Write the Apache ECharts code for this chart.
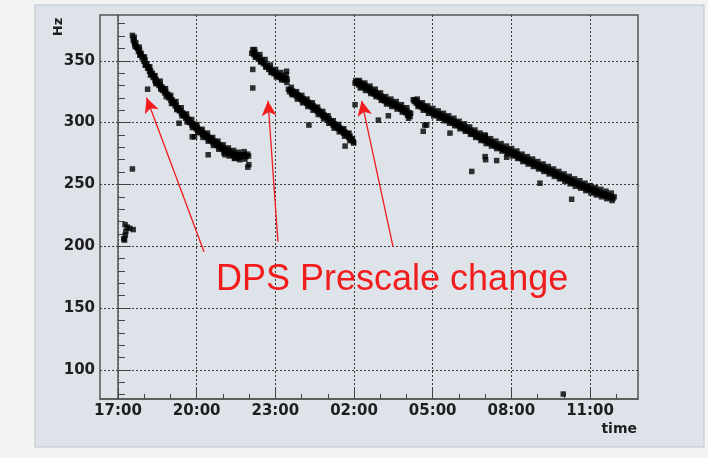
<!DOCTYPE html>
<html>
<head>
<meta charset="utf-8">
<script src="https://cdn.jsdelivr.net/npm/echarts@6/dist/echarts.min.js"></script>
<style>html,body{margin:0;padding:0;background:#f3f3f3;}#c{width:708px;height:458px;}</style>
</head>
<body>
<div id="c"></div>
<script>
// hours after 17:00
const xTickHours = [0, 3, 6, 9, 12, 15, 18];
const xTickLabels = ['17:00', '20:00', '23:00', '02:00', '05:00', '08:00', '11:00'];
const xMinorHours = [0,1,2,3,4,5,6,7,8,9,10,11,12,13,14,15,16,17,18,19];
const yTicks = [100, 150, 200, 250, 300, 350];
const yMinorTicks = [80,90,100,110,120,130,140,150,160,170,180,190,200,210,220,230,240,250,260,270,280,290,300,310,320,330,340,350,360,370,380];
const xRange = [-0.686, 19.83];
const yRange = [76.5, 387];

const fill1 = [[0.55,370.5],[0.58,367],[0.61,365.5],[0.64,363],[0.68,364.5],[0.71,361],[0.75,360],[0.78,357.5],[0.82,358.5],[0.85,355],[0.89,356],[0.92,352.5],[0.96,353],[0.99,349.5],[1.03,350.5],[1.06,346.5],[1.1,347.5],[1.13,344],[1.17,345],[1.2,341.5],[1.24,342],[1.27,339],[1.31,340],[1.34,336.5],[1.38,337.5],[1.41,334],[1.45,335],[1.48,332],[1.52,333],[1.56,330],[1.6,331],[1.63,328],[1.67,329],[1.7,326],[1.74,327],[1.78,324],[1.82,325],[1.86,322.5],[1.9,323],[1.94,320],[1.98,321],[2.02,318],[2.06,318.5],[2.1,315.5],[2.14,316.5],[2.18,313.5],[2.22,314],[2.26,311.5],[2.3,312],[2.34,309.5],[2.38,310],[2.42,307.5],[2.46,308],[2.5,305.5],[2.54,306.5],[2.58,303.5],[2.62,304.5],[2.66,302],[2.7,302.5],[2.74,300],[2.78,300.5],[2.82,298],[2.86,299],[2.9,296.5],[2.94,297.5],[2.98,295],[3.02,296],[3.06,293.5],[3.1,294.5],[3.14,292],[3.18,293],[3.22,290.5],[3.26,291.5],[3.3,289.5],[3.34,290],[3.38,288],[3.42,289],[3.46,286.5],[3.5,287.5],[3.54,285.5],[3.58,286.5],[3.62,284],[3.66,285],[3.7,283],[3.74,284],[3.78,281.5],[3.82,282.5],[3.86,280.5],[3.9,281.5],[3.94,279],[3.98,280],[4.02,278],[4.06,279],[4.1,277],[4.14,278],[4.18,276],[4.22,277],[4.26,275],[4.3,276],[4.34,274],[4.38,275.5],[4.42,273.5],[4.46,274.5],[4.5,272.5],[4.54,274],[4.58,271.5],[4.62,273.5],[4.66,272],[4.7,274],[4.76,273],[4.82,274],[4.88,272.5],[4.94,274.5],[4.98,273],
  [1.13,327],[2.33,299.5],[2.83,288.5],[2.92,288.5],[3.44,274],[4.08,274],[4.46,271.5],[0.55,262.5],[4.95,264],[4.99,266],
  [0.27,217.5],[0.35,215.5],[0.45,214.5],[0.58,213.5],[0.3,212],[0.28,209],[0.22,206],[0.25,205]];
const edge1 = [[0.62,369],[0.66,361.5],[0.81,361],[0.84,354.5],[1.01,353],[1.04,346.5],[1.21,345],[1.24,338.5],[1.41,338],[1.44,331.5],[1.61,333.5],[1.64,327],[1.81,327.5],[1.84,321],[2.01,322],[2.04,315.5],[2.21,317],[2.24,310.5],[2.41,312],[2.44,305.5],[2.61,307],[2.64,300.5],[2.81,302.5],[2.84,296],[3.01,298.5],[3.04,292],[3.21,294.5],[3.24,288],[3.41,291.5],[3.44,285],[3.61,288],[3.64,281.5],[3.81,285],[3.84,278.5],[4.01,282],[4.04,275.5],[4.21,279.5],[4.24,273],[4.41,277.5],[4.44,271],[4.61,276],[4.64,270],[4.81,276.5],[4.84,270.5]];

const fill2 = [[5.1,356],[5.14,359],[5.18,355],[5.22,357],[5.26,353],[5.3,354.5],[5.35,351.5],[5.4,352.5],[5.45,349.5],[5.5,350.5],[5.55,347.5],[5.6,348],[5.65,345],[5.7,346],[5.75,343],[5.8,344],[5.85,341],[5.9,342],[5.95,339.5],[6.0,340.5],[6.05,338],[6.1,339],[6.15,336.5],[6.2,338],[6.25,335.5],[6.3,337],[6.35,334.5],[6.4,336],[6.45,335],
  [6.5,327],[6.54,325],[6.58,326.5],[6.62,324],[6.66,325.5],[6.7,323],[6.75,324],[6.8,321.5],[6.85,322.5],[6.9,320],[6.95,321],[7.0,318.5],[7.05,319.5],[7.1,317],[7.15,318],[7.2,315.5],[7.25,316.5],[7.3,314],[7.35,315],[7.4,312.5],[7.45,313.5],[7.5,311],[7.55,312],[7.6,309],[7.65,310],[7.7,307.5],[7.75,308.5],[7.8,305.5],[7.85,306.5],[7.9,304],[7.95,305],[8.0,302],[8.05,303],[8.1,300],[8.15,301],[8.2,298],[8.25,299],[8.3,296.5],[8.35,297.5],[8.4,295],[8.45,296],[8.5,293.5],[8.55,294.5],[8.6,291.5],[8.65,292.5],[8.7,290],[8.75,291],[8.8,288],[8.85,289],[8.9,286],[8.94,287],[8.97,284.5],[8.99,283.5],
  [5.14,343],[5.14,328],[6.43,341.5],[7.28,298],[8.66,281]];
const edge2 = [[5.21,359],[5.24,353],[5.41,355],[5.44,349],[5.61,351],[5.64,345],[5.81,346.5],[5.84,340.5],[6.01,343],[6.04,337],[6.21,340.5],[6.24,334.5],[6.41,338.5],[6.44,332.5],[6.61,328.5],[6.64,322.5],[6.81,325],[6.84,319],[7.01,322],[7.04,316],[7.21,319],[7.24,313],[7.41,316],[7.44,310],[7.61,312.5],[7.64,306.5],[7.81,309],[7.84,303],[8.01,305.5],[8.04,299.5],[8.21,301.5],[8.24,295.5],[8.41,298.5],[8.44,292.5],[8.61,295],[8.64,289],[8.81,291.5],[8.84,285.5]];

const fill3 = [[9.04,332],[9.07,334],[9.1,331.5],[9.14,333],[9.18,330.5],[9.22,332],[9.27,329.5],[9.32,331],[9.37,328.5],[9.42,330],[9.47,327.5],[9.52,328.5],[9.57,326],[9.62,327],[9.67,324.5],[9.72,325.5],[9.77,323],[9.82,324.5],[9.87,322],[9.92,323],[9.97,320.5],[10.02,321.5],[10.07,319],[10.12,320],[10.17,317.5],[10.22,318.5],[10.27,316.5],[10.32,317.5],[10.37,315.5],[10.42,316.5],[10.47,314.5],[10.52,315.5],[10.57,313.5],[10.62,314.5],[10.67,312.5],[10.72,313],[10.77,311],[10.82,312],[10.87,309.5],[10.92,310.5],[10.97,308],[11.02,309.5],[11.07,306.5],[11.1,308],[11.14,305],[11.16,307.5],
  [9.04,314.5],[9.93,302],[10.31,305.5],[11.08,303.5],[11.64,293],[11.7,298]];
const edge3 = [[9.21,334],[9.24,328],[9.41,332],[9.44,326],[9.61,329.5],[9.64,323.5],[9.81,327],[9.84,321],[10.01,324],[10.04,318],[10.21,321],[10.24,315],[10.41,319],[10.44,313],[10.61,317],[10.64,311],[10.81,314.5],[10.84,308.5],[11.01,312],[11.04,306]];

const fill4 = [[11.26,318.5],[11.3,317],[11.34,318],[11.38,315.5],[11.42,316.5],[11.47,314],[11.52,315],[11.57,312.5],[11.62,313.5],[11.67,311.5],[11.72,312.5],[11.77,310.5],[11.82,311],[11.87,309],[11.92,310],[11.97,308],[12.02,309],[12.07,307],[12.12,308],[12.17,306],[12.22,307],[12.27,305],[12.32,306],[12.37,304],[12.42,305],[12.47,303],[12.52,304],[12.57,302],[12.62,303],[12.67,301],[12.72,302],[12.77,300],[12.82,301],[12.87,299],[12.92,300],[12.97,297.5],[13.02,298.5],[13.07,296.5],[13.12,297.5],[13.17,295.5],[13.22,296.5],[13.27,294],[13.32,295],[13.37,293],[13.42,294],[13.47,291.5],[13.52,292.5],[13.57,290.5],[13.62,291.5],[13.67,289],[13.72,290],[13.77,288],[13.82,289],[13.87,286.5],[13.92,287.5],[13.97,285.5],[14.02,286.5],[14.07,284.5],[14.12,285.5],[14.17,283.5],[14.22,284.5],[14.27,282.5],[14.32,283.5],[14.37,281.5],[14.42,282],[14.47,280.5],[14.52,281],[14.57,279.5],[14.62,280],[14.67,278.5],[14.72,279],[14.77,277.5],[14.82,278],[14.87,276.5],[14.92,277.5],[14.97,275.5],[15.02,276.5],[15.07,274.5],[15.12,275.5],[15.17,273.5],[15.22,274.5],[15.27,272],[15.32,273],[15.37,271],[15.42,272],[15.47,270],[15.52,271],[15.57,269],[15.62,270],[15.67,268],[15.72,269],[15.77,267],[15.82,268],[15.87,266],[15.92,267],[15.97,265],[16.02,266],[16.07,264],[16.12,265],[16.17,263],[16.22,264],[16.27,262],[16.32,263],[16.37,261],[16.42,262],[16.47,260],[16.52,261],[16.57,259],[16.62,260],[16.67,258],[16.72,259],[16.77,257],[16.82,258],[16.87,256],[16.92,257],[16.97,255],[17.02,256],[17.07,254],[17.12,255],[17.17,253],[17.22,254],[17.27,252],[17.32,253],[17.37,251],[17.42,252],[17.47,250.5],[17.52,251],[17.57,249.5],[17.62,250],[17.67,248.5],[17.72,249.5],[17.77,247.5],[17.82,248.5],[17.87,246.5],[17.92,247.5],[17.97,245.5],[18.02,246.5],[18.07,245],[18.12,246],[18.17,244],[18.22,245],[18.27,243],[18.32,244],[18.37,242.5],[18.42,243],[18.47,241.5],[18.52,242.5],[18.57,241],[18.62,242],[18.67,240],[18.72,241],[18.77,239.5],[18.82,240.5],[18.87,238.5],[18.92,240],
  [11.77,298],[12.66,291.5],[13.49,260.5],[14.0,290],[14.0,272.5],[14.02,270],[14.44,269.3],[14.82,272],[16.09,251],[17.3,238],[16.98,80.5]];
const edge4 = [[11.41,319],[11.44,313],[11.61,316],[11.64,310],[11.81,313.5],[11.84,307.5],[12.01,311.5],[12.04,305.5],[12.21,309.5],[12.24,303.5],[12.41,307.5],[12.44,301.5],[12.61,305.5],[12.64,299.5],[12.81,303.5],[12.84,297.5],[13.01,301],[13.04,295],[13.21,299],[13.24,293],[13.41,296.5],[13.44,290.5],[13.61,294],[13.64,288],[13.81,291.5],[13.84,285.5],[14.01,289],[14.04,283],[14.21,287],[14.24,281],[14.41,285],[14.44,279],[14.61,283],[14.64,277],[14.81,281],[14.84,275],[15.01,279],[15.04,273],[15.21,277],[15.24,271],[15.41,274.5],[15.44,268.5],[15.61,272.5],[15.64,266.5],[15.81,270.5],[15.84,264.5],[16.01,268.5],[16.04,262.5],[16.21,266.5],[16.24,260.5],[16.41,264.5],[16.44,258.5],[16.61,262.5],[16.64,256.5],[16.81,260.5],[16.84,254.5],[17.01,258.5],[17.04,252.5],[17.21,256.5],[17.24,250.5],[17.41,254.5],[17.44,248.5],[17.61,253],[17.64,247],[17.81,251],[17.84,245],[18.01,249],[18.04,243],[18.21,247.5],[18.24,241.5],[18.41,246],[18.44,240],[18.61,244.5],[18.64,238.5],[18.81,243],[18.84,237]];

// arrows: [tail, head] in (hours, Hz)
const arrows = [
  [[3.28, 195.5], [1.09, 320.1]],
  [[6.10, 203.6], [5.72, 317.6]],
  [[10.49, 199.5], [9.29, 317.6]]
];
const noteText = 'DPS Prescale change';
const yName = 'Hz';
const xName = 'time';

const chart = echarts.init(document.getElementById('c'), null, {renderer: 'canvas'});
const labelFont = {fontFamily: 'DejaVu Sans', fontWeight: 'bold', fontSize: 15, color: '#1e1e1e'};
const gridDash = {show: true, lineStyle: {color: '#3a3a3a', width: 1, type: [2, 2]}};
const allPoints = fill1.concat(edge1, fill2, edge2, fill3, edge3, fill4, edge4);

chart.setOption({
  animation: false,
  backgroundColor: '#f3f3f3',
  graphic: [
    {type: 'rect', z: -10, shape: {x: 35, y: 5, width: 669, height: 442}, style: {fill: '#dde3e9', stroke: '#bcc6cf', lineWidth: 1}},
    {type: 'text', z: 10, x: 59, y: 27, rotation: Math.PI / 2, style: {text: yName, fontFamily: 'DejaVu Sans', fontWeight: 'bold', fontSize: 13, fill: '#1e1e1e', align: 'center', verticalAlign: 'middle'}},
    {type: 'text', z: 10, x: 637, y: 429, style: {text: xName, fontFamily: 'DejaVu Sans', fontWeight: 'bold', fontSize: 14, fill: '#1e1e1e', align: 'right', verticalAlign: 'middle'}},
    {type: 'text', z: 10, x: 216, y: 280, style: {text: noteText, fontFamily: 'Liberation Sans', fontSize: 36, fill: '#f21c1c', align: 'left', verticalAlign: 'middle'}}
  ],
  grid: {left: 100, top: 15, width: 538, height: 384, show: true, backgroundColor: 'transparent', borderColor: '#555', borderWidth: 1.5},
  xAxis: [
    {type: 'value', min: xRange[0], max: xRange[1], position: 'bottom',
     axisLine: {show: true, lineStyle: {color: '#555', width: 1.5}},
     axisTick: {show: true, inside: true, length: 10, customValues: xTickHours, lineStyle: {color: '#444'}},
     axisLabel: Object.assign({show: true, margin: 5, customValues: xTickHours,
       formatter: v => { const i = xTickHours.indexOf(Math.round(v)); return i >= 0 ? xTickLabels[i] : ''; }}, labelFont),
     splitLine: gridDash},
    {type: 'value', min: xRange[0], max: xRange[1], position: 'bottom', gridIndex: 0,
     axisLine: {show: false},
     axisTick: {show: true, inside: true, length: 5, customValues: xMinorHours, lineStyle: {color: '#444'}},
     axisLabel: {show: false}, splitLine: {show: false}}
  ],
  yAxis: [
    {type: 'value', min: yRange[0], max: yRange[1], position: 'left',
     axisLine: {show: true, lineStyle: {color: '#555', width: 1.5}},
     axisTick: {show: true, inside: true, length: 13, customValues: yTicks, lineStyle: {color: '#444'}},
     axisLabel: Object.assign({show: true, margin: 5, customValues: yTicks}, labelFont),
     splitLine: gridDash},
    {type: 'value', min: yRange[0], max: yRange[1], position: 'left', gridIndex: 0,
     axisLine: {show: false},
     axisTick: {show: true, inside: true, length: 7, customValues: yMinorTicks, lineStyle: {color: '#444'}},
     axisLabel: {show: false}, splitLine: {show: false}}
  ],
  series: [
    {type: 'scatter', xAxisIndex: 0, yAxisIndex: 0, data: allPoints, symbol: 'rect', symbolSize: 5.5,
     itemStyle: {color: '#000'}, silent: true,
     markLine: {silent: true, symbol: ['none', 'arrow'], symbolSize: [11, 15], label: {show: false},
       lineStyle: {color: '#f21c1c', width: 1.3, type: 'solid'},
       data: arrows.map(a => [{coord: a[0]}, {coord: a[1]}])}}
  ]
});
</script>
</body>
</html>
